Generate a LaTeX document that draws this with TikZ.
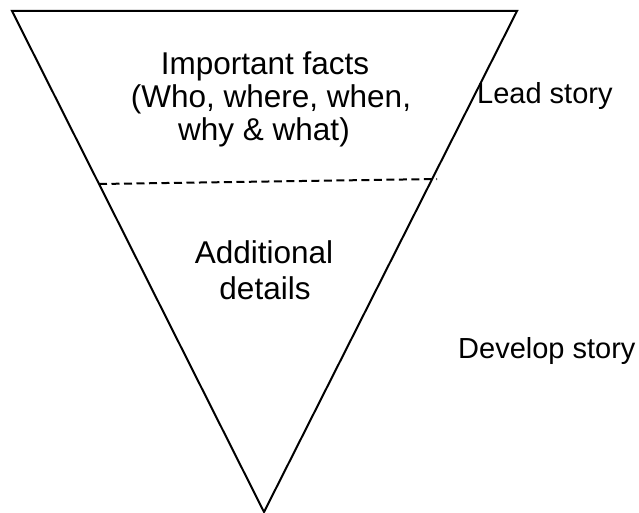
\documentclass[tikz,border=0pt]{standalone}
\usepackage{fontspec}
\setmainfont{Liberation Sans}
\begin{document}
\begin{tikzpicture}[x=1pt,y=-1pt,
  edge/.style={line width=2pt,line join=miter},
  divider/.style={line width=2pt,dash pattern=on 8pt off 4.5pt},
  bigtext/.style={font=\fontsize{31.5}{35}\selectfont,inner sep=0pt,anchor=base},
  sidetext/.style={font=\fontsize{29}{33}\selectfont,inner sep=0pt,anchor=base west}]
\useasboundingbox (0,0) rectangle (639,513);
\coordinate (tl) at (12,11);
\coordinate (tr) at (517,11);
\coordinate (bt) at (264,512);
\draw[edge] (tl) -- (tr) -- (bt) -- cycle;
\coordinate (dl) at (99,184);
\coordinate (dr) at (437,179);
\draw[divider] (dl) -- (dr);
\node[bigtext] (facts1) at (265,75) {Important facts};
\node[bigtext] (facts2) at (271,108) {(Who, where, when,};
\node[bigtext] (facts3) at (264,141) {why \& what)};
\node[bigtext] (details1) at (264,263) {Additional};
\node[bigtext] (details2) at (265,299) {details};
\node[sidetext] (lead) at (477,104) {Lead story};
\node[sidetext] (develop) at (458,358) {Develop story};
\end{tikzpicture}
\end{document}
